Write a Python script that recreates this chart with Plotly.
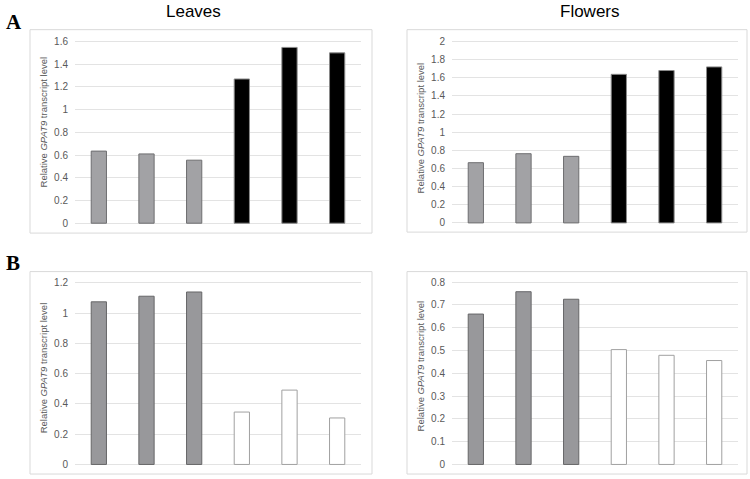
# GPAT9 transcript levels in leaves and flowers, redrawn with plotly

import plotly.graph_objects as go

W, H = 750, 479

# Data
samples = ["s1", "s2", "s3", "s4", "s5", "s6"]
leaves_a = [0.635, 0.61, 0.555, 1.27, 1.548, 1.50]
flowers_a = [0.664, 0.763, 0.734, 1.638, 1.68, 1.72]
leaves_b = [1.074, 1.111, 1.139, 0.346, 0.491, 0.307]
flowers_b = [0.66, 0.758, 0.725, 0.504, 0.479, 0.456]

# Bar styles: first three grey, last three black (A) or white (B)
fill_a = ["#a2a2a5"] * 3 + ["#000000"] * 3
line_a = ["#6e6e70"] * 3 + ["#8a8a8a"] * 3
fill_b = ["#98989b"] * 3 + ["#ffffff"] * 3
line_b = ["#666668"] * 3 + ["#a0a0a0"] * 3


def px_x(a, b):
    return [a / W, b / W]


def px_y(top, bottom):
    return [1 - bottom / H, 1 - top / H]


# name, values, fill, line, y max, dtick, plot box px (x0, x1, ytop, y0), frame px, title y
panels = [
    ("1", leaves_a, fill_a, line_a, 1.6, 0.2, (75, 361, 39, 223), (30, 372, 27, 233), 121),
    ("2", flowers_a, fill_a, line_a, 2.0, 0.2, (452, 738, 39, 222.7), (407, 747, 27, 232), 127),
    ("3", leaves_b, fill_b, line_b, 1.2, 0.2, (75, 361, 283.3, 467.3), (30, 372, 272, 477), 370),
    ("4", flowers_b, fill_b, line_b, 0.8, 0.1, (452, 738, 282.7, 467.3), (407, 747, 272, 477), 368),
]

fig = go.Figure()
shapes = []
annotations = []

for name, vals, fill, line, ymax, dt, box, frame, title_y in panels:
    x0, x1, ytop, y0 = box
    scale = (y0 - ytop) / ymax
    pad = ymax * 0.015
    xa = "x" if name == "1" else "x" + name
    ya = "y" if name == "1" else "y" + name

    fig.add_trace(go.Bar(
        x=samples, y=vals, xaxis=xa, yaxis=ya, width=0.32,
        marker=dict(color=fill, line=dict(color=line, width=1)),
        showlegend=False,
    ))

    fig.layout["xaxis" + ("" if name == "1" else name)] = dict(
        domain=px_x(x0, x1), anchor=ya, showticklabels=False, showgrid=False,
        zeroline=False, showline=False, ticks="", range=[-0.5, 5.5], fixedrange=True,
    )
    fig.layout["yaxis" + ("" if name == "1" else name)] = dict(
        domain=px_y(ytop - pad * scale, y0 + pad * scale), anchor=xa,
        range=[-pad, ymax + pad], tick0=0, dtick=dt, showgrid=True,
        gridcolor="#e3e3e3", gridwidth=1, zeroline=False, showline=False,
        ticks="outside", ticklen=4, tickcolor="rgba(0,0,0,0)",
        tickfont=dict(family="Liberation Sans, Arial", size=10, color="#595959"),
    )

    fx0, fx1, fy0, fy1 = frame
    shapes.append(dict(
        type="rect", xref="paper", yref="paper",
        x0=fx0 / W, x1=fx1 / W, y0=1 - fy1 / H, y1=1 - fy0 / H,
        line=dict(color="#d9d9d9", width=1), layer="below",
    ))
    annotations.append(dict(
        text="Relative <i>GPAT9</i> transcript level", textangle=-90,
        x=(fx0 + 13) / W, y=1 - title_y / H, xref="paper", yref="paper",
        showarrow=False, xanchor="center", yanchor="middle",
        font=dict(family="Liberation Sans, Arial", size=9.5, color="#595959"),
    ))

# Column titles and panel letters
for txt, xc in [("Leaves", 193), ("Flowers", 590)]:
    annotations.append(dict(
        text=txt, x=xc / W, y=1 - 9 / H, xref="paper", yref="paper",
        showarrow=False, xanchor="center", yanchor="middle",
        font=dict(family="Liberation Sans, Arial", size=17, color="#000000"),
    ))
for txt, yc in [("A", 19), ("B", 263)]:
    annotations.append(dict(
        text="<b>" + txt + "</b>", x=4 / W, y=1 - yc / H, xref="paper", yref="paper",
        showarrow=False, xanchor="left", yanchor="middle",
        font=dict(family="Liberation Serif, Times New Roman", size=21, color="#000000"),
    ))

fig.update_layout(
    width=W, height=H, margin=dict(l=0, r=0, t=0, b=0),
    paper_bgcolor="white", plot_bgcolor="white",
    shapes=shapes, annotations=annotations, bargap=0.68,
)

# drop the browser's default body margin so the figure sits at the page corner
fig.write_html(
    "out.html",
    config={"displayModeBar": False},
    post_script="document.body.style.margin='0';",
)
